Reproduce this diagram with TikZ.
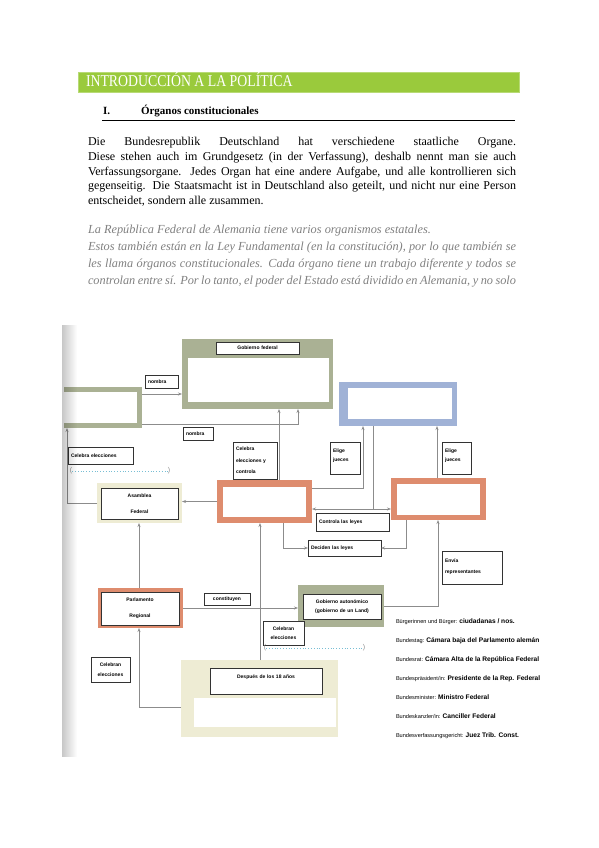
\documentclass[tikz,border=0pt]{standalone}
\usepackage{fontspec}
\usepackage{graphicx}
\setmainfont{Liberation Serif}
\newfontfamily\boxfont{Liberation Sans}
\usetikzlibrary{arrows.meta,fadings}

\definecolor{barverde}{RGB}{154,202,60}
\definecolor{verdegris}{RGB}{170,177,148}
\definecolor{naranja}{RGB}{222,140,110}
\definecolor{azul}{RGB}{160,178,214}
\definecolor{beige}{RGB}{238,236,212}
\definecolor{linea}{RGB}{140,140,140}
\definecolor{celeste}{RGB}{120,190,212}
\definecolor{grisclaro}{RGB}{128,128,128}

\begin{document}
\begin{tikzpicture}[x=1pt,y=-1pt,
	every node/.style={inner sep=0pt, outer sep=0pt},
	tam/.style 2 args={minimum width=#1pt, minimum height=#2pt},
	organo/.style={fill=#1, anchor=north west},
	hueco/.style={fill=white, anchor=north west},
	etiqueta/.style={draw=black!80, line width=0.5pt, fill=white, anchor=north west,
		inner xsep=3pt, align=left, font=\boxfont\bfseries\fontsize{5}{6.5}\selectfont},
	flecha/.style={draw=linea, line width=0.7pt, -{Stealth[length=4pt,width=3pt]}},
	doble/.style={draw=linea, line width=0.7pt, {Stealth[length=4pt,width=3pt]}-{Stealth[length=4pt,width=3pt]}},
	raya/.style={draw=linea, line width=0.7pt},
	punteada/.style={draw=celeste, line width=0.8pt, dotted},
	parent/.style={text=linea, font=\boxfont\fontsize{7}{7}\selectfont},
	leyenda/.style={anchor=base west, font=\boxfont\fontsize{5.6}{6.5}\selectfont}
	]
	\useasboundingbox (0,0) rectangle (599,848);

	\node[fill=barverde, draw=barverde!70!white, tam={441}{20}, anchor=north west] (barra) at (78,72) {};
	\node[anchor=base west, text=white, font=\fontsize{13.8}{15}\selectfont] (titulo) at (86,87)
		{\scalebox{1}[1.2]{INTRODUCCIÓN A LA POLÍTICA}};
	\node[anchor=base west, font=\bfseries\fontsize{11}{13}\selectfont] (num) at (103,115) {I.};
	\node[anchor=base west, font=\bfseries\fontsize{11}{13}\selectfont] (secc) at (141,115) {Órganos constitucionales};
	\draw[line width=1pt] (102,121) -- (515,121);

	\node[anchor=north west, align=left, font=\fontsize{12}{14.7}\selectfont] (aleman) at (88,137.3) {%
		\makebox[428pt][s]{Die Bundesrepublik Deutschland hat verschiedene staatliche Organe.}\\
		\makebox[428pt][s]{Diese stehen auch im Grundgesetz (in der Verfassung), deshalb nennt man sie auch}\\
		\makebox[428pt][s]{Verfassungsorgane. Jedes Organ hat eine andere Aufgabe, und alle kontrollieren sich}\\
		\makebox[428pt][s]{gegenseitig. Die Staatsmacht ist in Deutschland also geteilt, und nicht nur eine Person}\\
		entscheidet, sondern alle zusammen.};

	\node[anchor=north west, align=left, text=grisclaro, font=\itshape\fontsize{12.3}{17}\selectfont] (espanol) at (88,224.6) {%
		La República Federal de Alemania tiene varios organismos estatales.\\
		\makebox[428pt][s]{Estos también están en la Ley Fundamental (en la constitución), por lo que también se}\\
		\makebox[428pt][s]{les llama órganos constitucionales. Cada órgano tiene un trabajo diferente y todos se}\\
		\makebox[428pt][s]{controlan entre sí. Por lo tanto, el poder del Estado está dividido en Alemania, y no solo}};

	\node[organo=verdegris, tam={151}{70}] (gf) at (182,339) {};
	\node[hueco, tam={141}{44}] (gfin) at (188,358) {};
	\node[etiqueta, text width=77pt, minimum height=12pt, align=center] (gfl) at (216,342) {Gobierno federal};

	\node[organo=verdegris, tam={78}{41}] (lb) at (64,387) {};
	\node[hueco, tam={73}{31}] (lbin) at (64,392) {};

	\node[organo=azul, tam={118}{44}] (bp) at (339,382) {};
	\node[hueco, tam={104}{31}] (bpin) at (348,388) {};

	\node[organo=naranja, tam={95}{43}] (bt) at (217,480) {};
	\node[hueco, tam={83}{30}] (btin) at (223,487) {};

	\node[organo=naranja, tam={95}{42}] (br) at (391,478) {};
	\node[hueco, tam={83}{31}] (brin) at (397,484) {};

	\node[organo=beige, tam={85}{40}] (asam) at (97,483) {};
	\node[etiqueta, text width=71pt, minimum height=31pt, align=center] (asaml) at (101,488) {Asamblea\\[9.5pt]Federal};

	\node[organo=naranja, tam={85}{40}] (parl) at (98,588) {};
	\node[etiqueta, text width=72pt, minimum height=33pt, align=center] (parll) at (101,592) {Parlamento\\[9.5pt]Regional};

	\node[organo=verdegris, tam={86}{42}] (ga) at (298,585) {};
	\node[etiqueta, text width=72pt, minimum height=25pt, align=center] (gal) at (303,594) {Gobierno autonómico\\[2.5pt](gobierno de un Land)};

	\node[organo=beige, tam={157}{77}] (bev) at (181,660) {};
	\node[etiqueta, text width=106pt, text height=10pt, text depth=16pt, align=center] (bevl) at (210,668) {Después de los 18 años};
	\node[hueco, tam={142}{29}] (bevin) at (194,698) {};

	\node[etiqueta, text width=27pt, minimum height=13pt] (nombra1) at (145,375) {nombra};
	\node[etiqueta, text width=24pt, minimum height=13pt] (nombra2) at (183,427) {nombra};
	\node[etiqueta, text width=59pt, minimum height=17pt] (celebra1) at (68,447) {Celebra elecciones};
	\node[etiqueta, text width=38pt, minimum height=37pt] (celebra2) at (233,442) {Celebra\\[5pt]elecciones y\\[5pt]controla};
	\node[etiqueta, text width=24pt, text height=10pt, text depth=22pt] (elige1) at (330,442) {Elige\\[3pt]jueces};
	\node[etiqueta, text width=23pt, text height=10pt, text depth=22pt] (elige2) at (442,442) {Elige\\[3pt]jueces};
	\node[etiqueta, text width=67pt, minimum height=18pt] (controla) at (316,513) {Controla las leyes};
	\node[etiqueta, text width=67pt, minimum height=16pt] (deciden) at (308,540) {Deciden las leyes};
	\node[etiqueta, text width=54pt, text height=11pt, text depth=22pt] (envia) at (442,551) {Envía\\[4.5pt]representantes};
	\node[etiqueta, text width=40pt, minimum height=12pt, align=center] (constituyen) at (204,593) {constituyen};
	\node[etiqueta, text width=35pt, minimum height=24pt, align=center] (celebran1) at (263,621) {Celebran\\[2.5pt]elecciones};
	\node[etiqueta, text width=33pt, minimum height=25pt, align=center] (celebran2) at (91,657) {Celebran\\[3.5pt]elecciones};

	\node[parent] (pa1) at (71,471) {(};
	\node[parent] (pc1) at (169,471) {)};
	\draw[punteada] (pa1) -- (pc1);
	\node[parent] (pa2) at (265,648) {(};
	\node[parent] (pc2) at (364,648) {)};
	\draw[punteada] (pa2) -- (pc2);

	\coordinate (cruce) at (373,509);
	\draw[flecha] (lb.east |- 0,394) -- (gf.west |- 0,394);
	\draw[flecha] (lb.east |- 0,424) -| (gf.south -| 298,0);
	\draw[flecha] (bt.north -| 279,0) -- (gf.south -| 279,0);
	\draw[flecha] (asam.west) -| (lb.south -| 67,0);
	\draw[flecha] (bt.west) -- (asam.east |- bt.west);
	\draw[flecha] (bt.east |- 0,488) -| (bp.south -| 363,0);
	\draw[flecha] (br.north -| 437,0) -- (bp.south -| 437,0);
	\draw[raya] (bp.south -| cruce) -- (cruce);
	\draw[doble] (bt.east |- cruce) -- (br.west |- cruce);
	\draw[flecha] (bt.south -| 283,0) |- (deciden.west);
	\draw[flecha] (br.south -| 406,0) |- (deciden.east);
	\draw[flecha] (parl.north -| 139,0) -- (asam.south -| 139,0);
	\draw[flecha] (parl.east |- 0,608) -- (ga.west |- 0,608);
	\draw[flecha] (ga.east |- 0,606) -| (br.south -| 438,0);
	\draw[flecha] (bev.north -| 260,0) -- (bt.south -| 260,0);
	\draw[flecha] (bev.west |- 0,707) -| (parl.south -| 139,0);

	\node[leyenda] (ley1) at (396,623) {Bürgerinnen und Bürger: \textbf{\fontsize{6.6}{7}\selectfont ciudadanas / nos.}};
	\node[leyenda] (ley2) at (396,642) {Bundestag: \textbf{\fontsize{6.6}{7}\selectfont Cámara baja del Parlamento alemán}};
	\node[leyenda] (ley3) at (396,661) {Bundesrat: \textbf{\fontsize{6.6}{7}\selectfont Cámara Alta de la República Federal}};
	\node[leyenda] (ley4) at (396,680) {Bundespräsident/in: \textbf{\fontsize{6.6}{7}\selectfont Presidente de la Rep. Federal}};
	\node[leyenda] (ley5) at (396,699) {Bundesminister: \textbf{\fontsize{6.6}{7}\selectfont Ministro Federal}};
	\node[leyenda] (ley6) at (396,718) {Bundeskanzler/in: \textbf{\fontsize{6.6}{7}\selectfont Canciller Federal}};
	\node[leyenda] (ley7) at (396,737) {Bundesverfassungsgericht: \textbf{\fontsize{6.6}{7}\selectfont Juez Trib. Const.}};

	\fill[black, opacity=0.22, path fading=east] (62,325) rectangle (77,757);
\end{tikzpicture}
\end{document}
